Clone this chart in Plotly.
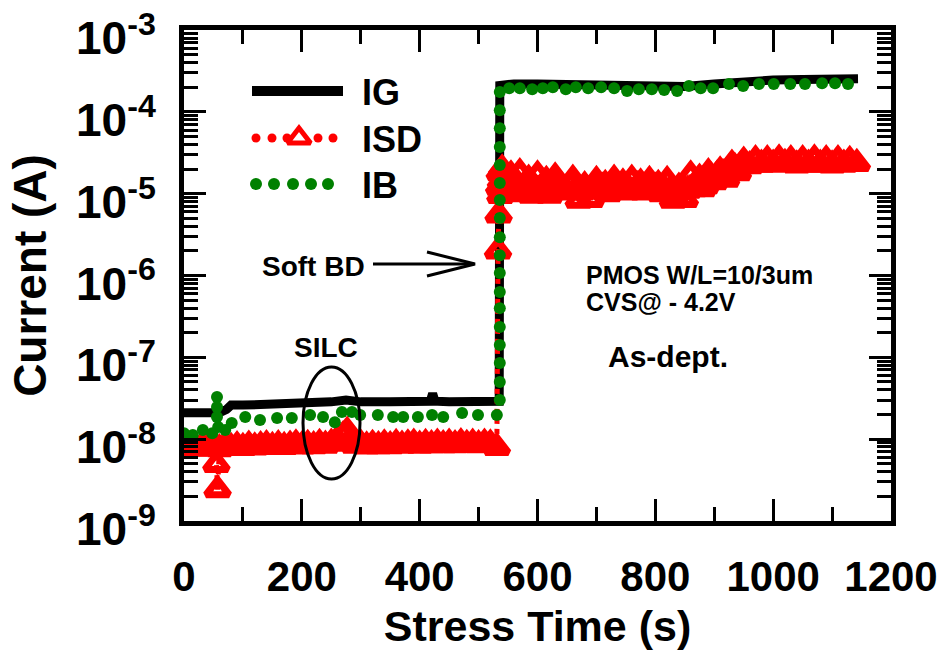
import plotly.graph_objects as go

# ---------------- data ----------------
# Gate current IG (A) vs stress time (s)
ig_t = [0, 30, 60, 72, 80, 100, 150, 200, 250, 275, 300, 350, 400, 418, 422, 426,
        450, 500, 535, 536, 560, 600, 650, 700, 750, 800, 850, 900, 950, 1000,
        1050, 1100, 1144]
ig_a = [2.1e-8, 2.05e-8, 2.1e-8, 2.3e-8, 2.6e-8, 2.6e-8, 2.65e-8, 2.7e-8, 2.85e-8,
        3.0e-8, 2.85e-8, 2.85e-8, 2.9e-8, 2.9e-8, 3.6e-8, 2.9e-8, 2.85e-8, 2.85e-8,
        2.9e-8, 2.1e-4, 2.2e-4, 2.2e-4, 2.15e-4, 2.1e-4, 2.05e-4, 2.0e-4, 2.05e-4,
        2.2e-4, 2.35e-4, 2.45e-4, 2.5e-4, 2.55e-4, 2.55e-4]

# Source/drain current ISD (A): before breakdown
isd_pre_t = [0, 10, 20, 30, 40, 50, 55, 57, 60, 70, 80, 90, 100, 110, 120, 130, 140,
             150, 160, 170, 180, 190, 200, 210, 220, 230, 240, 250, 260, 270, 277, 285,
             290, 300, 310, 320, 330, 340, 350, 360, 370, 380, 390, 400, 410, 420, 430,
             440, 450, 460, 470, 480, 490, 500, 510, 520, 531]
isd_pre_a = [7.9e-9, 8.2e-9, 7.7e-9, 8.1e-9, 7.8e-9, 8.2e-9, 4.9e-9, 2.4e-9, 7.6e-9,
             8.3e-9, 7.9e-9, 8.3e-9, 7.9e-9, 8.4e-9, 8.0e-9, 8.3e-9, 8.5e-9, 8.1e-9,
             8.5e-9, 8.1e-9, 8.4e-9, 8.7e-9, 8.2e-9, 8.6e-9, 8.3e-9, 8.8e-9, 8.4e-9,
             8.9e-9, 9.8e-9, 1.1e-8, 1.25e-8, 1.0e-8, 8.4e-9, 8.7e-9, 8.2e-9, 8.6e-9,
             8.3e-9, 8.7e-9, 8.3e-9, 8.8e-9, 8.4e-9, 8.7e-9, 8.9e-9, 8.4e-9, 8.8e-9,
             8.5e-9, 8.9e-9, 8.5e-9, 8.9e-9, 8.5e-9, 9.0e-9, 8.6e-9, 8.9e-9, 8.5e-9,
             8.9e-9, 8.7e-9, 7.9e-9]
# ISD: breakdown and after
isd_post_t = [533, 534, 535, 536, 537, 538,
              540, 545, 550, 555, 560, 565, 570, 575, 580, 585, 590, 595, 600, 605,
              610, 615, 620, 625, 630, 635, 640, 645, 650, 655, 660, 665, 670, 675,
              680, 685, 690, 695, 700, 705, 710, 715, 720, 725, 730, 735, 740, 745,
              750, 755, 760, 765, 770, 775, 780, 785, 790, 795, 800, 805, 810, 815,
              820, 825, 830, 835, 840, 845, 850, 855, 860, 865, 870, 875, 880, 885,
              890, 895, 900, 905, 910, 915, 920, 925, 930, 935, 940, 945, 950,
              960, 970, 980, 990, 1000, 1010, 1020, 1030, 1040, 1050, 1060, 1070,
              1080, 1090, 1100, 1110, 1120, 1130, 1142]
isd_post_a = [2.0e-6, 5.5e-6, 1.2e-5, 1.8e-5, 9.5e-6, 1.4e-5,
              2.0e-5, 1.5e-5, 1.3e-5, 1.7e-5, 1.0e-5, 1.3e-5, 1.8e-5, 1.1e-5, 1.25e-5,
              1.5e-5, 9.6e-6, 1.2e-5, 1.7e-5, 1.1e-5, 1.3e-5, 1.45e-5, 9.6e-6, 1.15e-5,
              1.6e-5, 1.35e-5, 1.25e-5, 1.1e-5, 1.05e-5, 1.3e-5, 1.5e-5, 1.1e-5, 8.3e-6,
              1.05e-5, 1.25e-5, 1.1e-5, 8.5e-6, 1.2e-5, 1.45e-5, 1.1e-5, 1.2e-5, 1.3e-5,
              1.0e-5, 1.25e-5, 1.5e-5, 1.1e-5, 1.2e-5, 1.35e-5, 1.05e-5, 1.15e-5, 1.5e-5,
              1.1e-5, 1.25e-5, 1.35e-5, 1.05e-5, 1.2e-5, 1.45e-5, 1.1e-5, 1.2e-5, 1.3e-5,
              1.0e-5, 1.15e-5, 1.45e-5, 1.1e-5, 8.3e-6, 1.0e-5, 1.2e-5, 1.05e-5, 8.5e-6,
              1.1e-5, 1.7e-5, 1.15e-5, 1.3e-5, 1.55e-5, 1.15e-5, 1.25e-5, 1.8e-5, 1.6e-5,
              1.4e-5, 1.7e-5, 1.9e-5, 1.75e-5, 1.5e-5, 2.0e-5, 2.3e-5, 2.1e-5, 1.8e-5,
              2.2e-5, 2.5e-5,
              2.2e-5, 2.6e-5, 2.3e-5, 2.6e-5, 2.3e-5, 2.65e-5, 2.35e-5, 2.6e-5, 2.25e-5,
              2.6e-5, 2.3e-5, 2.65e-5, 2.3e-5, 2.6e-5, 2.25e-5, 2.6e-5, 2.3e-5, 2.55e-5,
              2.35e-5]
isd_t = isd_pre_t + isd_post_t
isd_a = isd_pre_a + isd_post_a

# Bulk current IB (A)
ib_t = [0, 15, 32, 48, 56, 56, 56, 58, 70, 81, 104, 129, 158, 183, 214, 236, 256,
        268, 285, 299, 329, 355, 372, 397, 421, 440, 472, 499, 531,
        536, 536, 536, 536, 536, 536, 536, 536, 536, 536, 536, 536, 536, 536, 536,
        536, 536, 536,
        552, 570, 591, 609, 626, 648, 665, 686, 708, 730, 752, 772, 794, 815, 837,
        857, 877, 898, 925, 949, 976, 1001, 1029, 1054, 1083, 1105, 1127]
ib_a = [1.18e-8, 1.12e-8, 1.29e-8, 1.18e-8, 3.26e-8, 2.46e-8, 1.86e-8, 1.40e-8,
        1.29e-8, 1.57e-8, 1.86e-8, 1.71e-8, 1.81e-8, 1.81e-8, 1.97e-8, 1.86e-8,
        1.61e-8, 2.14e-8, 2.14e-8, 1.97e-8, 1.97e-8, 1.86e-8, 1.86e-8, 1.86e-8,
        1.97e-8, 1.86e-8, 2.08e-8, 1.97e-8, 1.97e-8,
        3.0e-8, 4.98e-8, 8.5e-8, 1.41e-7, 2.34e-7, 3.99e-7, 6.27e-7, 1.07e-6,
        1.77e-6, 2.94e-6, 5.04e-6, 8.36e-6, 1.35e-5, 2.24e-5, 3.72e-5, 6.34e-5,
        1.05e-4, 1.75e-4,
        1.95e-4, 1.95e-4, 1.90e-4, 1.95e-4, 2.01e-4, 1.90e-4, 2.01e-4, 1.95e-4,
        2.01e-4, 1.95e-4, 1.80e-4, 1.90e-4, 1.90e-4, 1.85e-4, 1.80e-4, 2.07e-4,
        1.95e-4, 1.95e-4, 2.19e-4, 2.07e-4, 2.19e-4, 2.19e-4, 2.19e-4, 2.19e-4,
        2.25e-4, 2.25e-4, 2.19e-4]

# axis ticks
y_tickvals = [1e-9, 1e-8, 1e-7, 1e-6, 1e-5, 1e-4, 1e-3]
y_ticktext = ["10<sup>-9</sup>", "10<sup>-8</sup>", "10<sup>-7</sup>", "10<sup>-6</sup>",
              "10<sup>-5</sup>", "10<sup>-4</sup>", "10<sup>-3</sup>"]
x_tickvals = [0, 200, 400, 600, 800, 1000, 1200]

# ---------------- styling ----------------
BOLD = "Liberation Sans, Arial, sans-serif"
RED = "#ff0000"
GREEN = "#008000"

# plot-area pixel frame (used for the overlay axes that hold the key and notes)
L, R, T, B = 184, 891, 30, 521
W, H = 943, 652

fig = go.Figure()

fig.add_trace(go.Scatter(x=ig_t, y=ig_a, mode="lines", name="IG",
                         line=dict(color="black", width=9)))
fig.add_trace(go.Scatter(x=isd_t, y=isd_a, mode="lines+markers", name="ISD",
                         line=dict(color=RED, width=5, dash="dot"),
                         marker=dict(symbol="triangle-up-open", size=20, color=RED,
                                     line=dict(color=RED, width=7))))
fig.add_trace(go.Scatter(x=ib_t, y=ib_a, mode="markers", name="IB",
                         marker=dict(symbol="circle", size=12, color=GREEN)))

# ---- key (drawn on the pixel overlay axes) ----
def key(x, y, **kw):
    fig.add_trace(go.Scatter(x=x, y=y, xaxis="x2", yaxis="y2", showlegend=False,
                             hoverinfo="skip", **kw))

key([252, 343], [91, 91], mode="lines", line=dict(color="black", width=10))
key([256, 272, 287, 318, 333], [138] * 5, mode="markers",
    marker=dict(symbol="circle", size=9, color=RED))
key([299], [138], mode="markers",
    marker=dict(symbol="triangle-up-open", size=20, color=RED, line=dict(color=RED, width=5)))
key([256, 274, 293, 311, 328], [184] * 5, mode="markers",
    marker=dict(symbol="circle", size=12, color=GREEN))

annotations = []
def note(text, x, y, size, anchor="left"):
    annotations.append(dict(text=text, x=x, y=y, xref="x2", yref="y2", showarrow=False,
                            xanchor=anchor, yanchor="middle",
                            font=dict(family=BOLD, size=size, color="black", weight="bold")))

note("IG", 360, 92, 36)
note("ISD", 360, 139, 36)
note("IB", 360, 185, 36)
note("Soft BD", 313, 266, 28, "center")
note("SILC", 326, 347, 28, "center")
note("PMOS W/L=10/3um", 584, 275, 25)
note("CVS@ - 4.2V", 584, 302, 25)
note("As-dept.", 606, 356, 30)

shapes = [
    # ellipse around the SILC region
    dict(type="circle", xref="x2", yref="y2", x0=303, x1=360, y0=367, y1=479,
         line=dict(color="black", width=3)),
    # open arrow pointing at the breakdown
    dict(type="line", xref="x2", yref="y2", x0=373, x1=474, y0=264, y1=264,
         line=dict(color="black", width=3)),
    dict(type="path", xref="x2", yref="y2", path="M427,252 L475,264 L427,276",
         line=dict(color="black", width=3)),
]

fig.update_layout(
    width=W, height=H,
    margin=dict(l=L, r=W - R, t=T, b=H - B, autoexpand=False),
    paper_bgcolor="white", plot_bgcolor="white",
    showlegend=False,
    annotations=annotations,
    shapes=shapes,
    xaxis=dict(
        range=[0, 1200], tickvals=x_tickvals, showgrid=False, zeroline=False,
        automargin=False,
        showline=True, linewidth=5, linecolor="black", mirror="ticks",
        ticks="inside", ticklen=22, tickwidth=3, tickcolor="black",
        minor=dict(ticks="inside", dtick=100, ticklen=14, tickwidth=3, tickcolor="black",
                   showgrid=False),
        tickfont=dict(family=BOLD, size=42, color="black", weight="bold"),
        ticklabelstandoff=15, ticklabeloverflow="allow",
        title=dict(text="Stress Time (s)", standoff=13,
                   font=dict(family=BOLD, size=43, color="black", weight="bold")),
    ),
    yaxis=dict(
        type="log", range=[-9.002, -2.998], tickvals=y_tickvals, ticktext=y_ticktext,
        showgrid=False, zeroline=False, automargin=False,
        showline=True, linewidth=5, linecolor="black", mirror="ticks",
        ticks="inside", ticklen=22, tickwidth=3, tickcolor="black",
        minor=dict(ticks="inside", dtick="D1", ticklen=14, tickwidth=3, tickcolor="black",
                   showgrid=False),
        tickfont=dict(family=BOLD, size=46, color="black", weight="bold"),
        ticklabelstandoff=14, ticklabelshift=8, ticklabeloverflow="allow",
        title=dict(text="Current (A)", standoff=16,
                   font=dict(family=BOLD, size=46, color="black", weight="bold")),
    ),
    xaxis2=dict(overlaying="x", anchor="y2", range=[L, R], visible=False),
    yaxis2=dict(overlaying="y", anchor="x2", range=[B, T], visible=False),
)

fig.write_html("out.html")
